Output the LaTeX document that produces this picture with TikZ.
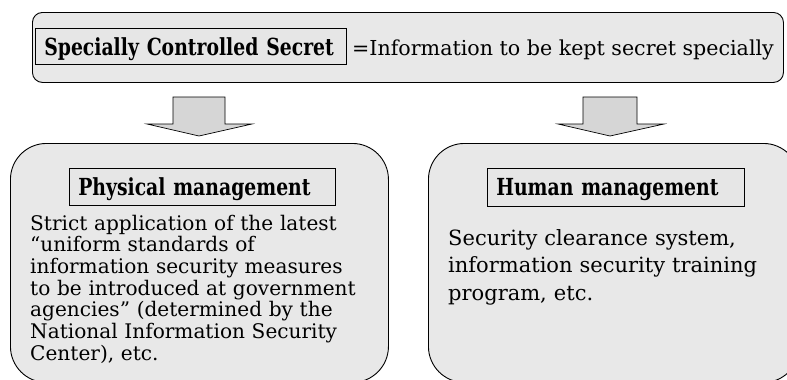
\documentclass[tikz,border=0pt]{standalone}
\usepackage{fontspec}
\setmainfont{DejaVu Serif}
\newfontfamily\labelfont[FakeStretch=0.8]{DejaVu Serif}
\definecolor{panelgray}{RGB}{232,232,232}
\definecolor{labelgray}{RGB}{230,230,230}
\definecolor{arrowgray}{RGB}{214,214,214}
\tikzset{
  panel/.style={draw=black, line width=0.9pt, fill=panelgray, anchor=north west, inner sep=0pt},
  labelbox/.style={draw=black, line width=0.6pt, fill=labelgray, anchor=north west,
    inner xsep=9pt, inner ysep=0pt, align=left,
    font=\labelfont\bfseries\fontsize{23.5}{25}\selectfont},
  bodytext/.style={anchor=base west, inner sep=0pt, align=left},
  blockarrow/.style={draw=black, line width=0.7pt, fill=arrowgray, line join=miter}
}
\begin{document}
\begin{tikzpicture}[x=1pt,y=-1pt]
\useasboundingbox (0,0) rectangle (787,380);
\clip (0,0) rectangle (787,380);
% top panel
\node[panel, rounded corners=10pt, minimum width=751pt, minimum height=70pt] (top) at (32,12) {};
\node[labelbox, minimum width=311pt, minimum height=36pt, text width=293pt, text height=18pt, text depth=0pt] (scs) at (35,28) {Specially Controlled Secret};
\node[bodytext, font=\fontsize{20.6}{22}\selectfont] (def) at (352,55) {=Information to be kept secret specially};
% block arrows
\draw[blockarrow] (173,97) -- (225,97) -- (225,124) -- (252,124) -- (199,136) -- (147,124) -- (173,124) -- cycle;
\draw[blockarrow] (583,97) -- (637,97) -- (637,124) -- (664,124) -- (610,136) -- (558,124) -- (583,124) -- cycle;
% bottom panels
\node[panel, rounded corners=36pt, minimum width=378pt, minimum height=239pt] (phys) at (10,143) {};
\node[panel, rounded corners=36pt, minimum width=371pt, minimum height=239pt] (human) at (428,143) {};
\node[labelbox, minimum width=266pt, minimum height=37pt, text width=248pt, text height=17pt, text depth=0pt] (physlabel) at (69,168) {Physical management};
\node[labelbox, minimum width=257pt, minimum height=38pt, text width=239pt, text height=16pt, text depth=0pt] (humanlabel) at (487,168) {Human management};
\node[bodytext, text width=356pt, font=\fontsize{20.1}{21.7}\selectfont] (phystext) at (30,230) {Strict application of the latest\\“uniform standards of\\information security measures\\to be introduced at government\\agencies” (determined by the\\National Information Security\\Center), etc.};
\node[bodytext, text width=335pt, font=\fontsize{21}{27.5}\selectfont] (humantext) at (448,245) {Security clearance system,\\information security training\\program, etc.};
\end{tikzpicture}
\end{document}
